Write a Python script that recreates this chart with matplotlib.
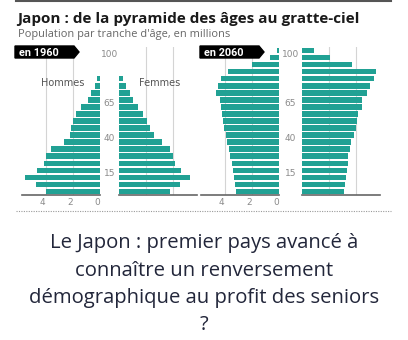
import matplotlib
matplotlib.use('Agg')
import numpy as np
import matplotlib.pyplot as plt
from matplotlib import patches, transforms

# population by five-year age group (millions), youngest first
ages_1960 = [0, 5, 10, 15, 20, 25, 30, 35, 40, 45, 50, 55, 60, 65, 70, 75, 80]
hommes_1960 = [3.95, 4.7, 5.55, 4.6, 4.1, 3.95, 3.6, 2.65, 2.2, 2.15, 2.0, 1.8, 1.4, 0.9, 0.67, 0.37, 0.2]
femmes_1960 = [3.78, 4.5, 5.26, 4.57, 4.15, 4.0, 3.78, 3.2, 2.6, 2.3, 2.05, 1.8, 1.43, 1.06, 0.8, 0.5, 0.3]

ages_2060 = [0, 5, 10, 15, 20, 25, 30, 35, 40, 45, 50, 55, 60, 65, 70, 75, 80, 85, 90, 95, 100]
hommes_2060 = [3.18, 3.26, 3.33, 3.38, 3.43, 3.57, 3.67, 3.82, 3.92, 4.07, 4.1, 4.16, 4.3, 4.36,
               4.6, 4.48, 4.3, 3.75, 1.96, 0.68, 0.15]
femmes_2060 = [3.07, 3.19, 3.24, 3.31, 3.36, 3.38, 3.53, 3.6, 3.8, 3.95, 4.03, 4.15, 4.4, 4.4,
               4.77, 5.0, 5.33, 5.43, 3.7, 2.05, 0.89]

age_labels = [100, 65, 40, 15]
x_ticks = [4, 2, 0]

W, H = 408, 340
TEAL = '#21a194'
GREY = '#8a8a8a'

fig = plt.figure(figsize=(W / 100, H / 100), dpi=100)


def px(x, y):
    return x / W, 1 - y / H


def panel(left, right, top=47, bottom=195):
    x0, y0 = px(left, bottom)
    return fig.add_axes([x0, y0, (right - left) / W, (bottom - top) / H])


def pyramid(ax, ages, values, side, xmax=5.74, labels=False):
    ax.barh(np.array(ages) + 2.5, values, height=3.9, color=TEAL, zorder=2)
    ax.set_ylim(0, 105)
    if side == 'left':
        ax.set_xlim(xmax, 0)
    else:
        ax.set_xlim(0, xmax)
    for s in ['top', 'right', 'left']:
        ax.spines[s].set_visible(False)
    ax.spines['bottom'].set_color('#666666')
    ax.spines['bottom'].set_linewidth(1.2)
    for g in [2, 4]:
        ax.axvline(g, color='#d4d4d4', lw=0.8, zorder=1)
    ax.set_yticks([])
    ax.set_xticks(x_ticks)
    ax.tick_params(axis='x', length=0, pad=2.5, labelsize=6.5, labelcolor=GREY)
    if not labels:
        ax.set_xticklabels([])
    else:
        # labels sit a little left of their gridline
        shift = transforms.ScaledTranslation(-3 / 100, 0, fig.dpi_scale_trans)
        for lab in ax.get_xticklabels():
            lab.set_transform(lab.get_transform() + shift)
    ax.patch.set_alpha(0)


ax_h60 = panel(22, 100)
ax_f60 = panel(119, 197)
ax_h20 = panel(201, 279)
ax_f20 = panel(302, 380)

pyramid(ax_h60, ages_1960, hommes_1960, 'left', labels=True)
pyramid(ax_f60, ages_1960, femmes_1960, 'right')
pyramid(ax_h20, ages_2060, hommes_2060, 'left', labels=True)
pyramid(ax_f20, ages_2060, femmes_2060, 'right')

# age labels between the two halves
for ax, xc in [(ax_h60, 109.5), (ax_h20, 290.5)]:
    tr = transforms.blended_transform_factory(fig.transFigure, ax.transData)
    for a in age_labels:
        ax.text(xc / W, a, str(a), transform=tr, ha='center', va='center',
                fontsize=6.5, color=GREY, clip_on=False)

ax_h60.text(0.52, 0.76, 'Hommes', transform=ax_h60.transAxes, ha='center', va='center',
            fontsize=7, color='#555555')
ax_f60.text(0.52, 0.76, 'Femmes', transform=ax_f60.transAxes, ha='center', va='center',
            fontsize=7, color='#555555')

# year tags with arrow tips
for x0, label in [(15, 'en 1960'), (200, 'en 2060')]:
    pts = [px(x0, 46), px(x0 + 59, 46), px(x0 + 64, 52), px(x0 + 59, 58), px(x0, 58)]
    fig.patches.append(patches.Polygon(pts, closed=True, color='black',
                                       transform=fig.transFigure))
    fig.text(*px(x0 + 4, 52.5), label, ha='left', va='center', fontsize=7.8,
             fontweight='bold', color='white', family='Roboto')

# header
fig.add_artist(plt.Line2D([16 / W, 391 / W], [1 - 1 / H] * 2, color='#555555', lw=1.5))
fig.text(*px(17, 19), 'Japon : de la pyramide des âges au gratte-ciel', ha='left',
         va='center', fontsize=11, fontweight='bold', color='#1a1a1a', family='Open Sans')
fig.text(*px(18, 35), "Population par tranche d'âge, en millions", ha='left',
         va='center', fontsize=7.9, color='#666666', family='Open Sans')

# dotted separator
fig.add_artist(plt.Line2D([16 / W, 391 / W], [1 - 211 / H] * 2, color='#9a9a9a',
                          lw=0.8, linestyle=(0, (1, 1.2))))

caption = ['Le Japon : premier pays avancé à', 'connaître un renversement',
           'démographique au profit des seniors', '?']
for i, line in enumerate(caption):
    fig.text(*px(204, 243 + 27.5 * i), line, ha='center', va='center', fontsize=14.6,
             color='#22263a', family='Open Sans')

fig.savefig('out.png', dpi=100)
